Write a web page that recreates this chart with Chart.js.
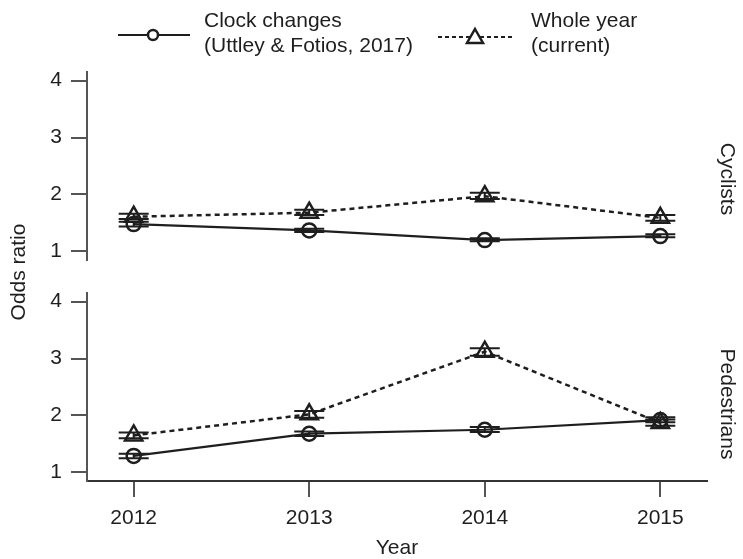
<!DOCTYPE html>
<html>
<head>
<meta charset="utf-8">
<script src="https://cdn.jsdelivr.net/npm/chart.js@4.4.1/dist/chart.umd.min.js"></script>
<style>
  html, body { margin: 0; padding: 0; background: #fff; }
  #wrap { position: relative; width: 743px; height: 559px; }
  #wrap canvas { position: absolute; left: 0; top: 0; }
</style>
</head>
<body>
<div id="wrap">
  <canvas id="topPanel" width="743" height="559"></canvas>
  <canvas id="bottomPanel" width="743" height="559"></canvas>
</div>
<script>
// data
const years = [2012, 2013, 2014, 2015];
const yTicks = [1, 2, 3, 4];

const cycClock = [1.48, 1.37, 1.20, 1.27];
const cycClockLow = [1.44, 1.34, 1.18, 1.25];
const cycClockHigh = [1.52, 1.40, 1.23, 1.30];
const cycWhole = [1.61, 1.68, 1.97, 1.59];
const cycWholeLow = [1.57, 1.64, 1.92, 1.54];
const cycWholeHigh = [1.66, 1.73, 2.03, 1.64];

const pedClock = [1.29, 1.68, 1.75, 1.92];
const pedClockLow = [1.25, 1.64, 1.71, 1.88];
const pedClockHigh = [1.33, 1.72, 1.80, 1.97];
const pedWhole = [1.65, 2.02, 3.12, 1.87];
const pedWholeLow = [1.60, 1.96, 3.05, 1.82];
const pedWholeHigh = [1.70, 2.08, 3.18, 1.93];

const FONT = '"Liberation Sans", Arial, sans-serif';
const INK = '#1e1e1e';
const AXIS = '#555';

Chart.defaults.font.family = FONT;
Chart.defaults.color = INK;

// little CI caps around each point
const errorBars = {
  id: 'errorBars',
  afterDatasetsDraw(chart) {
    const { ctx, scales: { x, y } } = chart;
    ctx.save();
    ctx.strokeStyle = INK;
    ctx.lineWidth = 2;
    chart.data.datasets.forEach(ds => {
      ds.data.forEach((pt, i) => {
        const px = x.getPixelForValue(pt.x);
        const lo = y.getPixelForValue(ds.ciLow[i]);
        const hi = y.getPixelForValue(ds.ciHigh[i]);
        ctx.beginPath();
        ctx.moveTo(px - 15, lo); ctx.lineTo(px + 15, lo);
        ctx.moveTo(px - 15, hi); ctx.lineTo(px + 15, hi);
        ctx.moveTo(px, lo); ctx.lineTo(px, hi);
        ctx.stroke();
      });
    });
    ctx.restore();
  }
};

// strip label on the right, reading top to bottom
function stripLabel(text, cy) {
  return {
    id: 'strip' + text,
    afterDraw(chart) {
      const ctx = chart.ctx;
      ctx.save();
      ctx.font = '21px ' + FONT;
      ctx.fillStyle = INK;
      ctx.textAlign = 'center';
      ctx.textBaseline = 'middle';
      ctx.translate(727, cy);
      ctx.rotate(Math.PI / 2);
      ctx.fillText(text, 0, 0);
      ctx.restore();
    }
  };
}

const legendAndTitles = {
  id: 'legendAndTitles',
  afterDraw(chart) {
    const ctx = chart.ctx;
    ctx.save();
    ctx.strokeStyle = INK;
    ctx.fillStyle = INK;

    // clock changes sample
    ctx.lineWidth = 2;
    ctx.beginPath();
    ctx.moveTo(118, 35); ctx.lineTo(190, 35);
    ctx.stroke();
    ctx.lineWidth = 2.5;
    ctx.beginPath();
    ctx.arc(153, 35, 5, 0, Math.PI * 2);
    ctx.fillStyle = '#fff';
    ctx.fill();
    ctx.stroke();

    // whole year sample
    ctx.lineWidth = 2;
    ctx.setLineDash([4, 3]);
    ctx.beginPath();
    ctx.moveTo(438, 37); ctx.lineTo(512, 37);
    ctx.stroke();
    ctx.setLineDash([]);
    ctx.lineWidth = 2.5;
    ctx.beginPath();
    ctx.moveTo(475, 29); ctx.lineTo(483, 43); ctx.lineTo(467, 43); ctx.closePath();
    ctx.fillStyle = '#fff';
    ctx.fill();
    ctx.stroke();

    ctx.fillStyle = INK;
    ctx.font = '21px ' + FONT;
    ctx.textAlign = 'left';
    ctx.textBaseline = 'middle';
    ctx.fillText('Clock changes', 204, 21);
    ctx.fillText('(Uttley & Fotios, 2017)', 204, 46);
    ctx.fillText('Whole year', 531, 21);
    ctx.fillText('(current)', 531, 46);

    // shared axis titles
    ctx.textAlign = 'center';
    ctx.fillText('Year', 397, 548);
    ctx.translate(19, 272);
    ctx.rotate(-Math.PI / 2);
    ctx.fillText('Odds ratio', 0, 0);
    ctx.restore();
  }
};

function makePanel(id, clock, clockLow, clockHigh, whole, wholeLow, wholeHigh, opt) {
  return new Chart(document.getElementById(id), {
    type: 'line',
    data: {
      datasets: [
        {
          label: 'Clock changes (Uttley & Fotios, 2017)',
          data: years.map((yr, i) => ({ x: yr, y: clock[i] })),
          ciLow: clockLow,
          ciHigh: clockHigh,
          borderColor: INK,
          borderWidth: 2.2,
          pointStyle: 'circle',
          pointRadius: 7,
          pointBorderWidth: 2.5,
          pointBorderColor: INK,
          pointBackgroundColor: 'rgba(255,255,255,0)',
          tension: 0
        },
        {
          label: 'Whole year (current)',
          data: years.map((yr, i) => ({ x: yr, y: whole[i] })),
          ciLow: wholeLow,
          ciHigh: wholeHigh,
          borderColor: INK,
          borderWidth: 2.5,
          borderDash: [5, 4],
          pointStyle: 'triangle',
          pointRadius: 10,
          pointBorderWidth: 2.5,
          pointBorderColor: INK,
          pointBackgroundColor: 'rgba(255,255,255,0)',
          tension: 0
        }
      ]
    },
    options: {
      responsive: false,
      animation: false,
      layout: { padding: opt.padding },
      plugins: {
        legend: { display: false },
        tooltip: { enabled: false }
      },
      scales: {
        x: {
          type: 'linear',
          display: opt.showX,
          min: 2011.734,
          max: 2015.266,
          afterBuildTicks: s => { s.ticks = years.map(v => ({ value: v })); },
          afterFit: s => { s.height = opt.showX ? 78 : 0; },
          grid: { drawOnChartArea: false, drawTicks: true, tickLength: 16, color: AXIS, lineWidth: 2 },
          border: { display: true, color: '#333', width: 2 },
          ticks: { font: { size: 21 }, color: INK, padding: 9, callback: v => String(v), maxRotation: 0 }
        },
        y: {
          min: 0.85,
          max: 4.15,
          afterBuildTicks: s => { s.ticks = yTicks.map(v => ({ value: v })); },
          afterFit: s => { s.width = 87; },
          grid: { drawOnChartArea: false, drawTicks: true, tickLength: 16, color: AXIS, lineWidth: 2 },
          border: { display: true, color: AXIS, width: 2 },
          ticks: { font: { size: 21 }, color: INK, padding: 9 }
        }
      }
    },
    plugins: [errorBars].concat(opt.extra)
  });
}

makePanel('topPanel', cycClock, cycClockLow, cycClockHigh, cycWhole, cycWholeLow, cycWholeHigh, {
  showX: false,
  padding: { top: 72, bottom: 299, left: 0, right: 36 },
  extra: [stripLabel('Cyclists', 179), legendAndTitles]
});

makePanel('bottomPanel', pedClock, pedClockLow, pedClockHigh, pedWhole, pedWholeLow, pedWholeHigh, {
  showX: true,
  padding: { top: 293, bottom: 0, left: 0, right: 36 },
  extra: [stripLabel('Pedestrians', 404)]
});
</script>
</body>
</html>
